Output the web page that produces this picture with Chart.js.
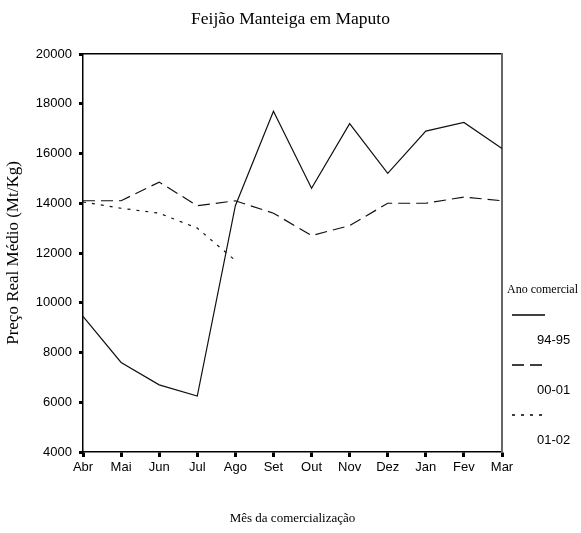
<!DOCTYPE html>
<html>
<head>
<meta charset="utf-8">
<script src="https://cdn.jsdelivr.net/npm/chart.js@4/dist/chart.umd.min.js"></script>
<style>
  html, body { margin: 0; padding: 0; background: #fff; }
  #wrap { width: 581px; height: 533px; }
</style>
</head>
<body>
<div id="wrap"><canvas id="chart" width="581" height="533"></canvas></div>
<script>
//months on the x axis
const months = ["Abr", "Mai", "Jun", "Jul", "Ago", "Set", "Out", "Nov", "Dez", "Jan", "Fev", "Mar"];
//average real price per season (Mt/Kg)
const price9495 = [9450, 7600, 6700, 6250, 13900, 17700, 14600, 17200, 15200, 16900, 17250, 16200];
const price0001 = [14100, 14100, 14850, 13900, 14100, 13600, 12700, 13100, 14000, 14000, 14250, 14100];
const price0102 = [14050, 13800, 13600, 13000, 11700, null, null, null, null, null, null, null];
//season names for the legend
const seasons = ["94-95", "00-01", "01-02"];
//y axis range
const yMin = 4000;
const yMax = 20000;
const yStep = 2000;

const serif = "'Liberation Serif', 'Times New Roman', serif";
const sans = "'Liberation Sans', Arial, sans-serif";

Chart.defaults.color = "#000";

//legend drawn on the right, like the original: title, line sample, then label under it
const sideLegend = {
  id: "sideLegend",
  afterDraw(chart) {
    const ctx = chart.ctx;
    const x0 = chart.chartArea.right + 10;
    ctx.save();
    ctx.fillStyle = "#000";
    ctx.textBaseline = "middle";
    ctx.font = "12px " + serif;
    ctx.fillText("Ano comercial", x0 - 5, 290);
    let y = 315;
    chart.data.datasets.forEach((ds) => {
      ctx.strokeStyle = "#000";
      ctx.lineWidth = 1.5;
      ctx.setLineDash(ds.borderDash || []);
      ctx.beginPath();
      ctx.moveTo(x0, y);
      ctx.lineTo(x0 + 33, y);
      ctx.stroke();
      ctx.setLineDash([]);
      ctx.font = "13px " + sans;
      ctx.fillText(ds.label, x0 + 25, y + 25);
      y += 50;
    });
    ctx.restore();
  },
};

new Chart(document.getElementById("chart"), {
  type: "line",
  plugins: [sideLegend],
  data: {
    labels: months,
    datasets: [
      { label: seasons[0], data: price9495, borderColor: "#111", borderWidth: 1.2, borderDash: [] },
      { label: seasons[1], data: price0001, borderColor: "#111", borderWidth: 1.2, borderDash: [12, 6] },
      { label: seasons[2], data: price0102, borderColor: "#111", borderWidth: 1.2, borderDash: [3, 6] },
    ],
  },
  options: {
    responsive: false,
    animation: false,
    layout: { padding: 0 },
    elements: {
      point: { radius: 0 },
      line: { tension: 0 },
    },
    plugins: {
      legend: { display: false },
      tooltip: { enabled: false },
      title: {
        display: true,
        text: "Feijão Manteiga em Maputo",
        font: { family: serif, size: 17.5, weight: "normal" },
        color: "#000",
        padding: { top: 9, bottom: 24 },
      },
    },
    scales: {
      x: {
        type: "category",
        offset: false,
        grid: { drawOnChartArea: false, tickLength: 5, tickWidth: 3, color: "#000" },
        border: { color: "#000", width: 1.5 },
        ticks: { font: { family: sans, size: 13 }, padding: 3, maxRotation: 0, autoSkip: false },
        title: {
          display: true,
          text: "Mês da comercialização",
          font: { family: serif, size: 13 },
          padding: { top: 0, bottom: 7 },
        },
        afterFit(scale) { scale.height = 81; },
      },
      x2: {
        type: "category",
        position: "top",
        labels: months,
        grid: { display: false },
        ticks: { display: false },
        border: { color: "#000", width: 1.5 },
        afterFit(scale) { scale.height = 0; },
      },
      y: {
        min: yMin,
        max: yMax,
        grid: { drawOnChartArea: false, tickLength: 4, tickWidth: 3, color: "#000" },
        border: { color: "#000", width: 1.5 },
        ticks: {
          stepSize: yStep,
          font: { family: sans, size: 13 },
          padding: 7,
          callback: (value) => String(value),
        },
        title: {
          display: true,
          text: "Preço Real Médio (Mt/Kg)",
          font: { family: serif, size: 17 },
          padding: { top: 3, bottom: 0 },
        },
        afterFit(scale) { scale.width = 83; },
      },
      y2: {
        position: "right",
        grid: { display: false },
        ticks: { display: false },
        border: { color: "#666", width: 2 },
        afterFit(scale) { scale.width = 79; },
      },
    },
  },
});
</script>
</body>
</html>
